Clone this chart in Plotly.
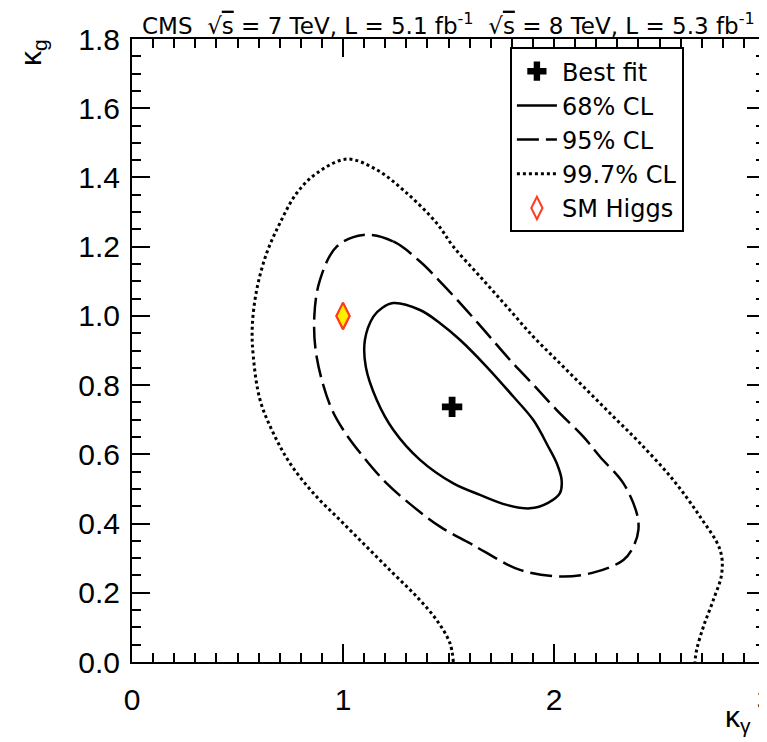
import plotly.graph_objects as go

# ---- data ----
best_fit_x = [1.517]
best_fit_y = [0.737]

sm_x = [1.0]
sm_y = [1.0]

cl68_x = [1.238, 1.365, 1.460, 1.554, 1.681, 1.807, 1.902, 1.973, 2.013, 2.036, 2.028, 1.972,
          1.886, 1.776, 1.649, 1.523, 1.365, 1.238, 1.160, 1.108, 1.104, 1.144, 1.185, 1.238]
cl68_y = [1.037, 1.017, 0.979, 0.931, 0.853, 0.767, 0.699, 0.622, 0.574, 0.526, 0.488, 0.460,
          0.444, 0.454, 0.483, 0.516, 0.584, 0.671, 0.757, 0.853, 0.931, 0.998, 1.023, 1.037]

cl95_x = [1.096, 1.238, 1.365, 1.460, 1.570, 1.681, 1.791, 1.902, 2.013, 2.139, 2.218, 2.329,
          2.392, 2.400, 2.376, 2.329, 2.202, 2.044, 1.839, 1.673, 1.602, 1.460, 1.333, 1.207,
          1.096, 1.001, 0.938, 0.875, 0.864, 0.891, 0.970, 1.096]
cl95_y = [1.234, 1.215, 1.157, 1.099, 1.027, 0.950, 0.873, 0.801, 0.728, 0.651, 0.593, 0.516,
          0.430, 0.382, 0.333, 0.295, 0.261, 0.247, 0.266, 0.318, 0.343, 0.391, 0.449, 0.516,
          0.593, 0.671, 0.743, 0.882, 0.998, 1.104, 1.200, 1.234]

cl997_x = [1.523, 1.507, 1.444, 1.349, 1.238, 1.112, 0.986, 0.859, 0.749, 0.670, 0.607,
           0.575, 0.570, 0.591, 0.638, 0.701, 0.781, 0.875, 1.018, 1.160, 1.302, 1.444, 1.523,
           1.649, 1.776, 1.902, 2.028, 2.155, 2.281, 2.408, 2.565, 2.692, 2.787, 2.795, 2.755,
           2.708, 2.676, 2.668]
cl997_y = [0.000, 0.054, 0.121, 0.189, 0.256, 0.333, 0.410, 0.488, 0.574, 0.661, 0.757,
           0.882, 0.969, 1.075, 1.181, 1.268, 1.355, 1.412, 1.453, 1.422, 1.355, 1.268, 1.200,
           1.114, 1.027, 0.940, 0.863, 0.786, 0.709, 0.632, 0.526, 0.420, 0.324, 0.256, 0.179,
           0.102, 0.035, 0.000]

x_ticks = [0, 1, 2, 3]
y_ticks = [0.0, 0.2, 0.4, 0.6, 0.8, 1.0, 1.2, 1.4, 1.6, 1.8]
y_tick_labels = ["0.0", "0.2", "0.4", "0.6", "0.8", "1.0", "1.2", "1.4", "1.6", "1.8"]

FONT = "Liberation Sans, Arial, sans-serif"
WIDE = "DejaVu Sans, Liberation Sans, sans-serif"

fig = go.Figure()

fig.add_trace(go.Scatter(x=best_fit_x, y=best_fit_y, mode="markers", name="Best fit",
                         marker=dict(symbol="cross", size=17, color="black")))
fig.add_trace(go.Scatter(x=cl68_x, y=cl68_y, mode="lines", name="68% CL",
                         line=dict(color="black", width=2.5, shape="spline", smoothing=1.0)))
fig.add_trace(go.Scatter(x=cl95_x, y=cl95_y, mode="lines", name="95% CL",
                         line=dict(color="black", width=2.5, dash="22px,7px", shape="spline", smoothing=1.0)))
fig.add_trace(go.Scatter(x=cl997_x, y=cl997_y, mode="lines", name="99.7% CL",
                         line=dict(color="black", width=3, dash="3px,3px", shape="spline", smoothing=1.0)))
fig.add_trace(go.Scatter(x=sm_x, y=sm_y, mode="markers", showlegend=False,
                         marker=dict(symbol="diamond-tall", size=19, color="#ffee00",
                                     line=dict(color="#ff5a1f", width=2))))
fig.add_trace(go.Scatter(x=sm_x, y=sm_y, mode="markers", name="SM Higgs",
                         marker=dict(symbol="diamond-tall-open", size=19, color="#ff3b1f",
                                     line=dict(width=2))))

axis_common = dict(showline=True, linewidth=2, linecolor="black", mirror="allticks",
                   ticks="inside", ticklen=18, tickwidth=2, tickcolor="black",
                   showgrid=False, zeroline=False, ticklabeloverflow="allow",
                   automargin=False,
                   tickfont=dict(family=FONT, size=30, color="black"))

fig.update_xaxes(range=[0, 3], tickvals=x_ticks, ticktext=[str(v) for v in x_ticks],
                 minor=dict(dtick=0.1, ticklen=9, tickwidth=2, ticks="inside", tickcolor="black"),
                 ticklabelstandoff=10, **axis_common)
fig.update_yaxes(range=[0, 1.8], tickvals=y_ticks, ticktext=y_tick_labels,
                 minor=dict(dtick=0.05, ticklen=9, tickwidth=2, ticks="inside", tickcolor="black"),
                 ticklabelstandoff=4, **axis_common)

fig.update_layout(
    width=759, height=734,
    margin=dict(l=124, r=2, t=31, b=80, autoexpand=False),
    plot_bgcolor="white", paper_bgcolor="white",
    font=dict(family=FONT, color="black"),
    showlegend=True,
    legend=dict(x=0.597, y=0.987, xanchor="left", yanchor="top",
                bgcolor="white", bordercolor="black", borderwidth=2,
                font=dict(family=WIDE, size=24, color="black"),
                tracegroupgap=0, itemwidth=40),
    annotations=[
        dict(text="CMS  √<span style='text-decoration:overline'>s</span> = 7 TeV, L = 5.1 fb<sup>-1</sup>"
                  "  √<span style='text-decoration:overline'>s</span> = 8 TeV, L = 5.3 fb<sup>-1</sup>",
             xref="paper", yref="paper", x=0.013, y=1.0, yshift=-2, xanchor="left", yanchor="bottom",
             showarrow=False, font=dict(family=WIDE, size=23, color="black")),
        dict(text="κ<sub>g</sub>", xref="paper", yref="paper", x=-0.158, y=0.979,
             xanchor="center", yanchor="middle", textangle=-90, showarrow=False,
             font=dict(family=FONT, size=30, color="black")),
        dict(text="κ<sub>γ</sub>", xref="paper", yref="paper", x=0.957, y=-0.090,
             xanchor="center", yanchor="middle", showarrow=False,
             font=dict(family=FONT, size=30, color="black")),
    ],
)

fig.write_html("out.html")
